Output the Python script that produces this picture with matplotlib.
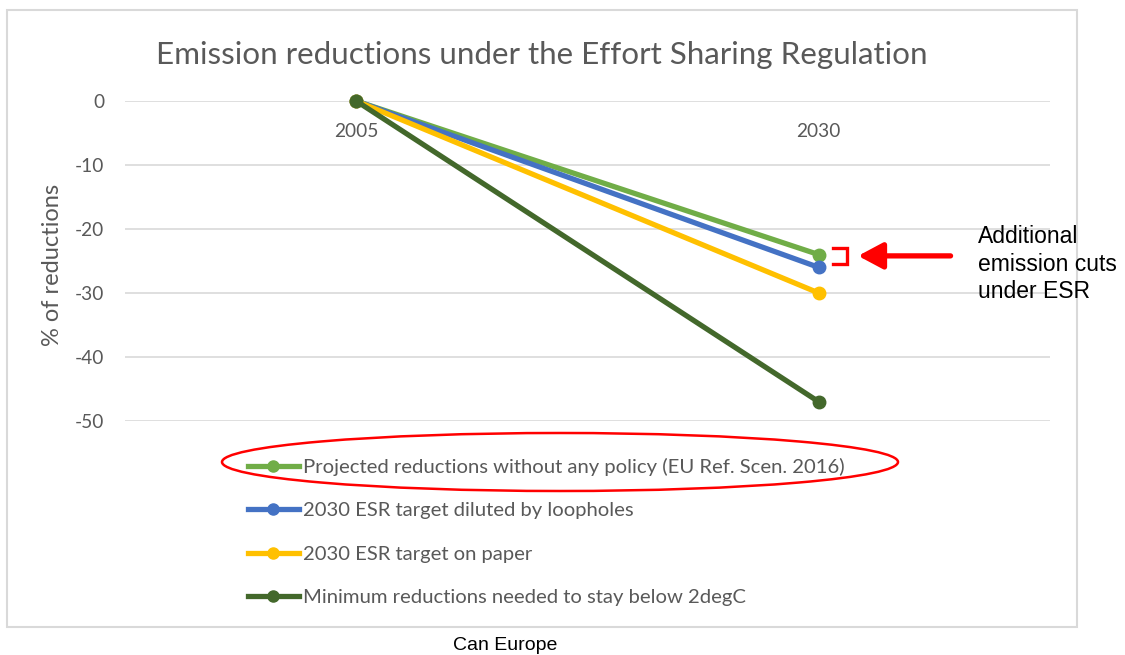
import matplotlib
matplotlib.use('Agg')
import matplotlib.pyplot as plt
from matplotlib.patches import Ellipse, Rectangle
from matplotlib.lines import Line2D

plt.rcParams['font.family'] = ['Lato', 'DejaVu Sans']

# Data (% change vs 2005)
years = ['2005', '2030']
projected = [0, -24]      # no policy, EU Ref. Scen. 2016
diluted = [0, -26]        # ESR target with loopholes
on_paper = [0, -30]       # ESR target on paper
two_deg = [0, -47]        # needed for 2degC

labels = ['Projected reductions without any policy (EU Ref. Scen. 2016)',
          '2030 ESR target diluted by loopholes',
          '2030 ESR target on paper',
          'Minimum reductions needed to stay below 2degC']
colors = ['#70AD47', '#4472C4', '#FFC000', '#43682B']
yticks = [0, -10, -20, -30, -40, -50]

gray = '#595959'
W, H = 1125, 655

fig = plt.figure(figsize=(W / 100, H / 100), dpi=100)
ax = fig.add_axes([125 / W, (H - 421) / H, 925 / W, 320 / H])

# Lines
x = range(len(years))
for vals, c in zip([projected, diluted, on_paper, two_deg], colors):
    ax.plot(x, vals, color=c, lw=3.8, marker='o', ms=9, clip_on=False,
            solid_capstyle='round')

ax.set_xlim(-0.5, 1.5)
ax.set_ylim(-50, 0)
ax.set_yticks(yticks)
ax.set_yticklabels([str(v) for v in yticks])
ax.set_xticks(list(x))
ax.set_xticklabels(years)
ax.spines['bottom'].set_position(('data', 0))
for s in ax.spines.values():
    s.set_visible(False)
ax.tick_params(axis='both', length=0, labelsize=13.8, labelcolor=gray)
ax.tick_params(axis='x', pad=16)
ax.tick_params(axis='y', pad=15)
ax.grid(axis='y', color='#D9D9D9', lw=1.2)
ax.set_axisbelow(True)

ax.set_ylabel('% of reductions', fontsize=17, color=gray)
ax.yaxis.set_label_coords(-0.067, 0.4875)

ax.set_title('Emission reductions under the Effort Sharing Regulation',
             fontsize=22.6, color=gray, pad=0, x=0.451, y=1 + 37 / 320)

# Bracket + arrow annotation
bx0, bx1 = 1.03, 1.06
ytop, ybot = projected[1] + 1.0, diluted[1] + 0.6
ax.plot([bx0, bx1, bx1, bx0], [ytop, ytop, ybot, ybot], color='red',
        lw=2.4, clip_on=False, solid_joinstyle='miter')
ymid = (ytop + ybot) / 2
ax.annotate('', xy=(1.085, ymid), xytext=(1.285, ymid),
            arrowprops=dict(arrowstyle='-|>,head_length=0.75,head_width=0.4',
                            color='red', lw=3.8, mutation_scale=20,
                            shrinkA=0, shrinkB=0),
            annotation_clip=False)
fig.text(978 / W, (H - 225) / H, 'Additional\nemission cuts\nunder ESR',
         family='Liberation Sans', fontsize=16.5, color='black',
         ha='left', va='top', linespacing=1.26)

# Legend
handles = [Line2D([], [], color=c, lw=3.8, marker='o', ms=8) for c in colors]
leg = fig.legend(handles, labels, loc='upper left',
                 bbox_to_anchor=(248 / W, (H - 458) / H), frameon=False,
                 fontsize=14.6, labelcolor=gray, handlelength=2.5,
                 handletextpad=0.2, labelspacing=1.29, borderpad=0,
                 borderaxespad=0)

# Red ellipse round the first legend entry
fig.patches.append(Ellipse((560 / W, (H - 462) / H), 676 / W, 58 / H,
                           transform=fig.transFigure, fill=False,
                           edgecolor='red', lw=1.8))

# Chart border
fig.patches.append(Rectangle((7 / W, (H - 627) / H), 1070 / W, 617 / H,
                             transform=fig.transFigure, fill=False,
                             edgecolor='#D9D9D9', lw=1.5))

fig.text(505 / W, (H - 645) / H, 'Can Europe', family='Liberation Sans',
         fontsize=14, ha='center', va='center')

fig.savefig('out.png', dpi=100)
